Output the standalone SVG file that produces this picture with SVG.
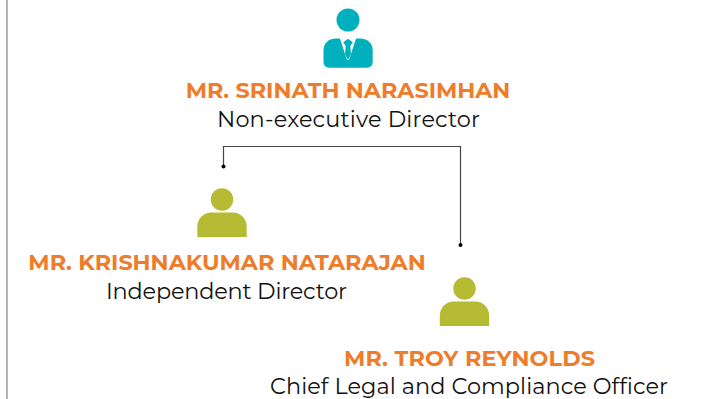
<svg xmlns="http://www.w3.org/2000/svg" width="707" height="399" viewBox="0 0 707 399">
<defs>
<style>
.n{font-family:"Montserrat","Open Sans","Liberation Sans",sans-serif;font-weight:700;font-size:22.3px;fill:#ee7c2b;text-anchor:middle}
.r{font-family:"Montserrat","Open Sans","Liberation Sans",sans-serif;font-weight:400;font-size:22.4px;fill:#111;text-anchor:middle}
.o{fill:#b5bb33}
.c{fill:none;stroke:#444;stroke-width:1.2}
</style>
<marker id="dot" markerWidth="5" markerHeight="5" refX="2.5" refY="2.5" markerUnits="userSpaceOnUse"><circle cx="2.5" cy="2.5" r="2" fill="#000"/></marker>
<g id="person"><circle cx="0" cy="0" r="11.200"/><path d="M-24.700 37.500V27C-24.700 19-18 13-11 13H11C18 13 24.700 19 24.700 27V37.500Z"/></g>
</defs>
<path d="M7 0V399" stroke="#999" stroke-width="1.500" fill="none"/>
<g id="connectors"><path class="c" d="M223.500 166.500V146.500H460.500V245" marker-start="url(#dot)" marker-end="url(#dot)"/></g>
<g id="srinath">
<circle cx="348" cy="20" r="11.500" fill="#00b1bd"/>
<path fill="#00b1bd" d="M323.500 50C323.500 43 329 38.500 336 38.500H360C367 38.500 372.700 43 372.700 50V62C372.700 65.500 370 67.700 367 67.700H329C326 67.700 323.500 65.500 323.500 62Z"/>
<path fill="#fff" d="M339.500 37H356.500L349 60H347Z"/>
<path fill="#00b1bd" d="M348 38.700L352.800 42.300L350.300 46L351 54L348 60L345 54L345.700 46L343.200 42.300Z"/>
<text class="n" x="348" y="97.500">MR. SRINATH NARASIMHAN</text>
<text class="r" x="348.500" y="127" textLength="263">Non-executive Director</text>
</g>
<g id="krishnakumar">
<use href="#person" class="o" x="222" y="199.500"/>
<text class="n" x="227" y="269.500">MR. KRISHNAKUMAR NATARAJAN</text>
<text class="r" x="226.500" y="299" textLength="241">Independent Director</text>
</g>
<g id="troy">
<use href="#person" class="o" x="464.500" y="288.500"/>
<text class="n" x="469.500" y="365.500" textLength="251">MR. TROY REYNOLDS</text>
<text class="r" x="469" y="394" textLength="398">Chief Legal and Compliance Officer</text>
</g>
</svg>
